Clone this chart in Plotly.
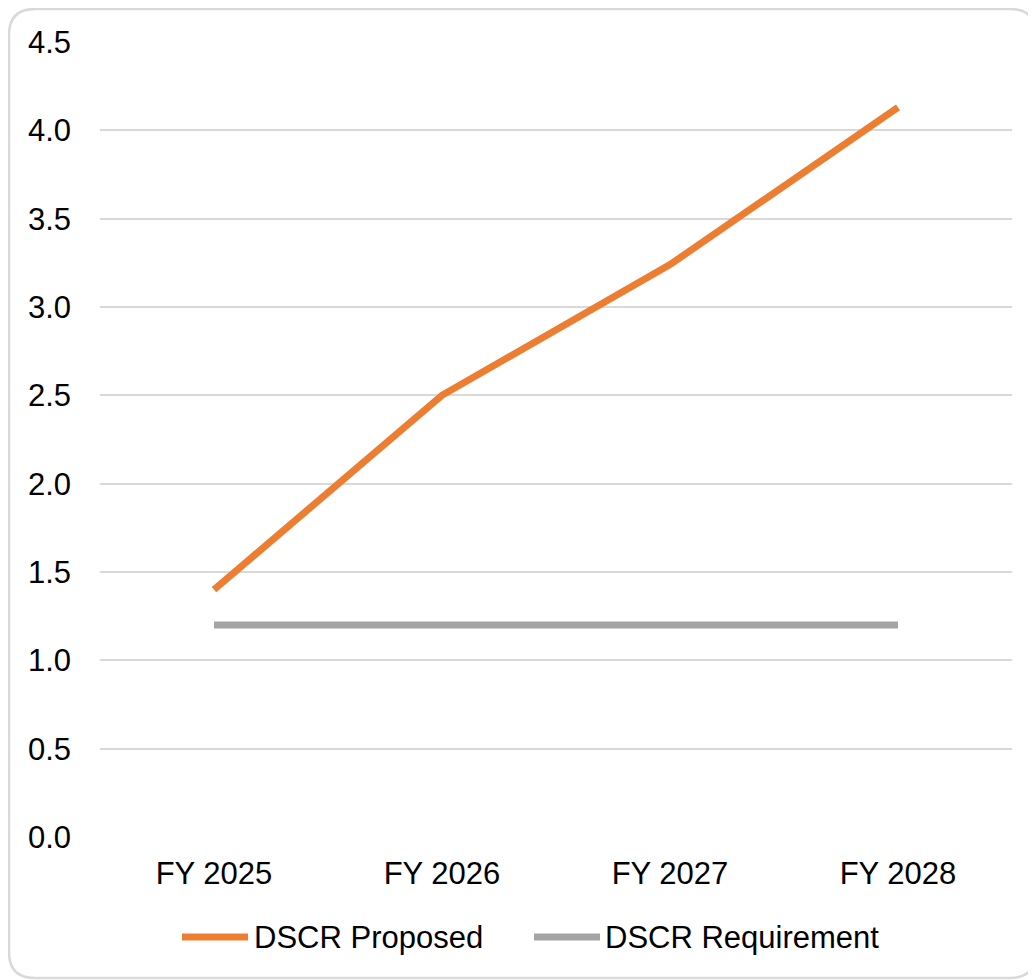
import plotly.graph_objects as go

# ---- data ----
categories = ["FY 2025", "FY 2026", "FY 2027", "FY 2028"]
dscr_proposed = [1.40, 2.50, 3.24, 4.13]
dscr_requirement = [1.20, 1.20, 1.20, 1.20]
y_ticks = [0.0, 0.5, 1.0, 1.5, 2.0, 2.5, 3.0, 3.5, 4.0, 4.5]
series_names = ["DSCR Proposed", "DSCR Requirement"]

# ---- style ----
OFF = 8  # page body margin
W, H = 1028, 972
ML, MR, MT, MB = 92, 24, 34, 143
ORANGE = "#ED7D31"
GRAY = "#A5A5A5"
GRID = "#D9D9D9"
FONT = "Liberation Sans, Arial, sans-serif"
FS = 31

PW = W - ML - MR
PH = H - MT - MB


def px(x):
    # page pixel -> paper
    return (x - OFF - ML) / PW


def py(y):
    return (H - MB - (y - OFF)) / PH


fig = go.Figure()
fig.add_trace(go.Scatter(x=categories, y=dscr_requirement, mode="lines",
                         name=series_names[1], line=dict(color=GRAY, width=7),
                         showlegend=False, hoverinfo="skip"))
fig.add_trace(go.Scatter(x=categories, y=dscr_proposed, mode="lines",
                         name=series_names[0], line=dict(color=ORANGE, width=7),
                         showlegend=False, hoverinfo="skip"))

# rounded outer border
x0, y0, x1, y1, r = 9, 9, 1036, 978, 26
path = (f"M {px(x0 + r)},{py(y0)} L {px(x1 - r)},{py(y0)} "
        f"Q {px(x1)},{py(y0)} {px(x1)},{py(y0 + r)} "
        f"L {px(x1)},{py(y1 - r)} Q {px(x1)},{py(y1)} {px(x1 - r)},{py(y1)} "
        f"L {px(x0 + r)},{py(y1)} Q {px(x0)},{py(y1)} {px(x0)},{py(y1 - r)} "
        f"L {px(x0)},{py(y0 + r)} Q {px(x0)},{py(y0)} {px(x0 + r)},{py(y0)} Z")
shapes = [dict(type="path", path=path, xref="paper", yref="paper",
               line=dict(color=GRID, width=2.5), layer="below")]

# manual legend
legend_items = [(series_names[0], ORANGE, 182, 248, 252),
                (series_names[1], GRAY, 534, 600, 603)]
annotations = []
ly = 937
for name, col, lx0, lx1, tx in legend_items:
    shapes.append(dict(type="line", xref="paper", yref="paper",
                       x0=px(lx0), x1=px(lx1), y0=py(ly), y1=py(ly),
                       line=dict(color=col, width=7)))
    annotations.append(dict(text=name, xref="paper", yref="paper",
                            x=px(tx), y=py(ly), xanchor="left", yanchor="middle",
                            showarrow=False, font=dict(family=FONT, size=FS, color="black")))

fig.update_layout(
    width=W, height=H,
    margin=dict(l=ML, r=MR, t=MT, b=MB),
    paper_bgcolor="white", plot_bgcolor="white",
    font=dict(family=FONT, size=FS, color="black"),
    shapes=shapes, annotations=annotations,
    showlegend=False,
    xaxis=dict(range=[-0.5, 3.5], showgrid=False, zeroline=False,
               showline=False, ticks="", ticklabelstandoff=15,
               tickfont=dict(family=FONT, size=FS, color="black"), fixedrange=True),
    yaxis=dict(range=[0, 4.5], tickvals=y_ticks,
               ticktext=[f"{v:.1f}" for v in y_ticks],
               showgrid=True, gridcolor=GRID, gridwidth=2,
               zeroline=False, showline=False, ticks="",
               ticklabelstandoff=28,
               tickfont=dict(family=FONT, size=FS, color="black"), fixedrange=True),
)

fig.write_html("out.html", config={"displayModeBar": False})
